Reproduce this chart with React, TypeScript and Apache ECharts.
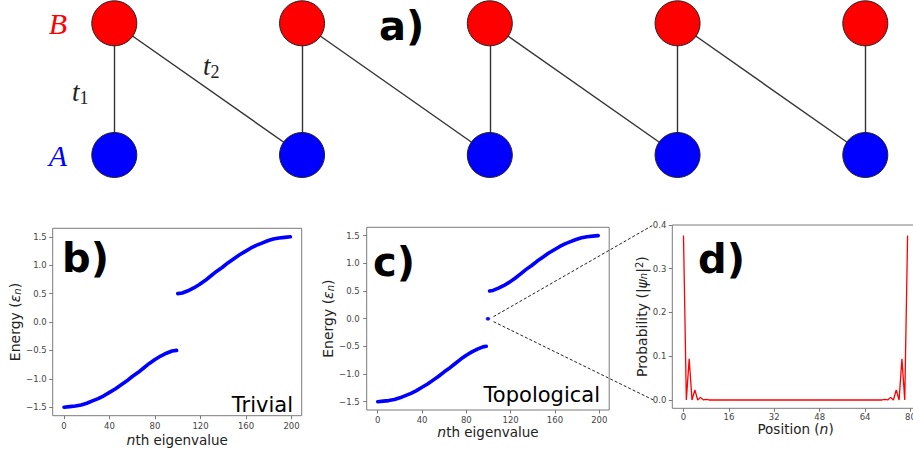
import React, { useEffect, useRef } from 'react';
import * as echarts from 'echarts';

// ---- data ----
// b) trivial chain spectrum
const trivialLowerN = [0, 5, 10, 15, 20, 25, 30, 35, 40, 45, 50, 55, 60, 65, 70, 75, 80, 85, 90, 95, 99];
const trivialLowerE = [-1.5, -1.49, -1.48, -1.46, -1.43, -1.39, -1.35, -1.3, -1.24, -1.18, -1.11, -1.04, -0.96, -0.89, -0.81, -0.73, -0.66, -0.6, -0.55, -0.51, -0.5];
const trivialUpperN = [100, 104, 109, 114, 119, 124, 129, 134, 139, 144, 149, 154, 159, 164, 169, 174, 179, 184, 189, 194, 199];
const trivialUpperE = [0.5, 0.51, 0.55, 0.6, 0.66, 0.73, 0.81, 0.89, 0.96, 1.04, 1.11, 1.18, 1.24, 1.3, 1.35, 1.39, 1.43, 1.46, 1.48, 1.49, 1.5];
// c) topological chain spectrum
const topoLowerN = [0, 5, 10, 15, 20, 25, 30, 35, 40, 45, 50, 55, 60, 65, 70, 75, 80, 85, 90, 95, 98];
const topoLowerE = [-1.5, -1.49, -1.48, -1.46, -1.43, -1.39, -1.35, -1.3, -1.24, -1.18, -1.11, -1.04, -0.96, -0.89, -0.81, -0.73, -0.66, -0.6, -0.55, -0.51, -0.5];
const topoEdgeN = [99, 100];
const topoEdgeE = [0, 0];
const topoUpperN = [101, 104, 109, 114, 119, 124, 129, 134, 139, 144, 149, 154, 159, 164, 169, 174, 179, 184, 189, 194, 199];
const topoUpperE = [0.5, 0.51, 0.55, 0.6, 0.66, 0.73, 0.81, 0.89, 0.96, 1.04, 1.11, 1.18, 1.24, 1.3, 1.35, 1.39, 1.43, 1.46, 1.48, 1.49, 1.5];
// d) edge-state probability, positions 0..79
const probability = [
  0.376, 0, 0.094, 0, 0.023, 0, 0.006, 0, 0.0015, 0,
  0.0004, 0, 0, 0, 0, 0, 0, 0, 0, 0,
  0, 0, 0, 0, 0, 0, 0, 0, 0, 0,
  0, 0, 0, 0, 0, 0, 0, 0, 0, 0,
  0, 0, 0, 0, 0, 0, 0, 0, 0, 0,
  0, 0, 0, 0, 0, 0, 0, 0, 0, 0,
  0, 0, 0, 0, 0, 0, 0, 0, 0, 0.0004,
  0, 0.0015, 0, 0.006, 0, 0.023, 0, 0.094, 0, 0.376,
];
// tick values
const energyXTicks = [0, 40, 80, 120, 160, 200];
const energyYTicks = [-1.5, -1.0, -0.5, 0.0, 0.5, 1.0, 1.5];
const posXTicks = [0, 16, 32, 48, 64, 80];
const probYTicks = [0.0, 0.1, 0.2, 0.3, 0.4];
// a) SSH chain lattice: cell index, sublattice height (B=1, A=0)
const cellX = [0, 1, 2, 3, 4];

const FONT = 'DejaVu Sans';
const SPINE = '#7a7a7a';
const TICKLABEL = '#444';
const LABEL = '#222';

const fmt1 = (v: number) => v.toFixed(1).replace('-', '\u2212');
const zip = (a: number[], b: number[]) => a.map((x, i) => [x, b[i]]);

const richName = {
  i: { fontStyle: 'italic', fontSize: 14, fontFamily: FONT, color: LABEL },
  s: { fontStyle: 'italic', fontSize: 10, fontFamily: FONT, color: LABEL, verticalAlign: 'bottom', lineHeight: 10 },
  p: { fontSize: 10, fontFamily: FONT, color: LABEL, verticalAlign: 'top', lineHeight: 10 },
};

function xAxisCfg(gridIndex: number, min: number, max: number, ticks: number[], name: string, gap: number, margin: number) {
  return {
    gridIndex, type: 'value', min, max,
    axisLine: { show: false, onZero: false },
    splitLine: { show: false },
    axisTick: { show: true, customValues: ticks, length: 3.5, lineStyle: { color: SPINE } },
    axisLabel: { customValues: ticks, fontSize: 8.5, color: TICKLABEL, margin, fontFamily: FONT, formatter: (v: number) => String(v) },
    name, nameLocation: 'middle', nameGap: gap,
    nameTextStyle: { fontSize: 13.5, color: LABEL, fontFamily: FONT, rich: richName },
  };
}
function yAxisCfg(gridIndex: number, min: number, max: number, ticks: number[], name: string, gap: number, margin: number) {
  return {
    gridIndex, type: 'value', min, max,
    axisLine: { show: false, onZero: false },
    splitLine: { show: false },
    axisTick: { show: true, customValues: ticks, length: 3.5, lineStyle: { color: SPINE } },
    axisLabel: { customValues: ticks, fontSize: 8.5, color: TICKLABEL, margin, fontFamily: FONT, formatter: fmt1 },
    name, nameLocation: 'middle', nameGap: gap, nameRotate: 90,
    nameTextStyle: { fontSize: 14, color: LABEL, fontFamily: FONT, rich: richName },
  };
}

export default function App() {
  const ref = useRef<HTMLDivElement>(null);
  useEffect(() => {
    const chart = echarts.init(ref.current!, null, { renderer: 'svg' });

    const nodes: any[] = [];
    cellX.forEach((x) => nodes.push({ value: [x, 1], itemStyle: { color: '#ff0000' } })); // B sites 0..4
    cellX.forEach((x) => nodes.push({ value: [x, 0], itemStyle: { color: '#0000ff' } })); // A sites 5..9
    const links: any[] = [];
    cellX.forEach((_, i) => links.push({ source: i, target: i + cellX.length }));
    cellX.slice(0, -1).forEach((_, i) => links.push({ source: i, target: i + 1 + cellX.length }));

    const bandLine = (xi: number, d: number[][]) => ({
      type: 'line', xAxisIndex: xi, yAxisIndex: xi, data: d, showSymbol: false, symbol: 'none',
      lineStyle: { color: '#0000ff', width: 3.6, cap: 'round', join: 'round' }, silent: true,
    });

    const gridBase = { show: true, borderColor: SPINE, borderWidth: 1, backgroundColor: 'transparent', containLabel: false, outerBoundsMode: 'none' };

    chart.setOption({
      animation: false,
      backgroundColor: '#ffffff',
      grid: [
        { ...gridBase, left: 52.7, top: 228.3, width: 249, height: 187.4 },
        { ...gridBase, left: 366.7, top: 227.3, width: 242.5, height: 182.7 },
        { ...gridBase, left: 672.3, top: 225, width: 246.5, height: 183.3 },
        { left: 114.3, top: 23.3, width: 751, height: 131.7, show: false, containLabel: false, outerBoundsMode: 'none' },
      ],
      xAxis: [
        xAxisCfg(0, -9.95, 208.95, energyXTicks, '{i|n}th eigenvalue', 17, 6),
        xAxisCfg(1, -9.95, 208.95, energyXTicks, '{i|n}th eigenvalue', 15, 5),
        xAxisCfg(2, -3.95, 82.95, posXTicks, 'Position ({i|n})', 14, 4),
        { gridIndex: 3, type: 'value', min: 0, max: 4, show: false },
      ],
      yAxis: [
        yAxisCfg(0, -1.65, 1.65, energyYTicks, 'Energy ({i|ε}{s|n})', 30, 6),
        yAxisCfg(1, -1.65, 1.65, energyYTicks, 'Energy ({i|ε}{s|n})', 29, 7),
        yAxisCfg(2, -0.019, 0.4, probYTicks, 'Probability (|{i|ψ}{s|n}|{p|2})', 21, 6),
        { gridIndex: 3, type: 'value', min: 0, max: 1, show: false },
      ],
      series: [
        bandLine(0, zip(trivialLowerN, trivialLowerE)),
        bandLine(0, zip(trivialUpperN, trivialUpperE)),
        bandLine(1, zip(topoLowerN, topoLowerE)),
        bandLine(1, zip(topoUpperN, topoUpperE)),
        {
          type: 'scatter', xAxisIndex: 1, yAxisIndex: 1, data: zip(topoEdgeN, topoEdgeE),
          symbol: 'circle', symbolSize: 3.5, itemStyle: { color: '#0000ff' }, silent: true,
        },
        {
          type: 'line', xAxisIndex: 2, yAxisIndex: 2, data: probability.map((p, i) => [i, p]),
          showSymbol: false, symbol: 'none', lineStyle: { color: '#ff0000', width: 1.3 }, silent: true,
        },
        {
          type: 'graph', coordinateSystem: 'cartesian2d', xAxisIndex: 3, yAxisIndex: 3,
          symbol: 'circle', symbolSize: 45, data: nodes, links,
          lineStyle: { color: '#333333', width: 1.4, opacity: 1, curveness: 0 },
          itemStyle: { borderColor: '#222222', borderWidth: 1 },
          label: { show: false }, emphasis: { disabled: true }, silent: true,
        },
      ],
    });

    // zoom guide lines from the c) zero modes to the d) panel
    const p0 = chart.convertToPixel({ xAxisIndex: 1, yAxisIndex: 1 }, [100, 0]) as number[];
    const dTop = chart.convertToPixel({ xAxisIndex: 2, yAxisIndex: 2 }, [-3.95, 0.4]) as number[];
    const dBot = chart.convertToPixel({ xAxisIndex: 2, yAxisIndex: 2 }, [-3.95, 0]) as number[];

    const big = (text: string, x: number, y: number, align = 'left') => ({
      type: 'text', silent: true,
      style: { text, x, y, align, verticalAlign: 'middle', fontFamily: FONT, fontWeight: 'bold', fontSize: 40, fill: '#000' },
    });
    const tLabel = (sub: string, x: number, y: number) => ({
      type: 'text', silent: true,
      style: {
        text: `{t|t}{s|${sub}}`, x, y, align: 'left', verticalAlign: 'middle',
        rich: {
          t: { fontFamily: 'Liberation Serif', fontStyle: 'italic', fontSize: 27, fill: '#222', lineHeight: 30 },
          s: { fontFamily: 'Liberation Serif', fontSize: 18, fill: '#222', lineHeight: 18, verticalAlign: 'bottom' },
        },
      },
    });

    chart.setOption({
      graphic: [
        { type: 'text', silent: true, style: { text: 'B', x: 58, y: 23.5, align: 'center', verticalAlign: 'middle', fontFamily: 'Liberation Serif', fontStyle: 'italic', fontSize: 30, fill: '#ff0000' } },
        { type: 'text', silent: true, style: { text: 'A', x: 58, y: 155, align: 'center', verticalAlign: 'middle', fontFamily: 'Liberation Serif', fontStyle: 'italic', fontSize: 30, fill: '#0000ff' } },
        tLabel('1', 72, 92),
        tLabel('2', 203, 66),
        big('a)', 401.7, 26, 'center'),
        big('b)', 62, 258),
        big('c)', 373, 262),
        big('d)', 698, 259),
        { type: 'text', silent: true, style: { text: 'Trivial', x: 293, y: 405, align: 'right', verticalAlign: 'middle', fontFamily: FONT, fontSize: 21, fill: '#000' } },
        { type: 'text', silent: true, style: { text: 'Topological', x: 600, y: 395, align: 'right', verticalAlign: 'middle', fontFamily: FONT, fontSize: 21, fill: '#000' } },
        {
          type: 'line', silent: true,
          shape: { x1: p0[0] + 5, y1: p0[1] - 2, x2: dTop[0] - 19, y2: dTop[1] },
          style: { stroke: '#222', lineWidth: 1, lineDash: [3, 2] },
        },
        {
          type: 'line', silent: true,
          shape: { x1: p0[0] + 5, y1: p0[1] + 3, x2: dBot[0] - 19, y2: dBot[1] },
          style: { stroke: '#222', lineWidth: 1, lineDash: [3, 2] },
        },
      ],
    });

    return () => chart.dispose();
  }, []);
  return <div ref={ref} style={{ position: 'fixed', left: 0, top: 0, width: 913, height: 454, background: '#fff' }} />;
}
